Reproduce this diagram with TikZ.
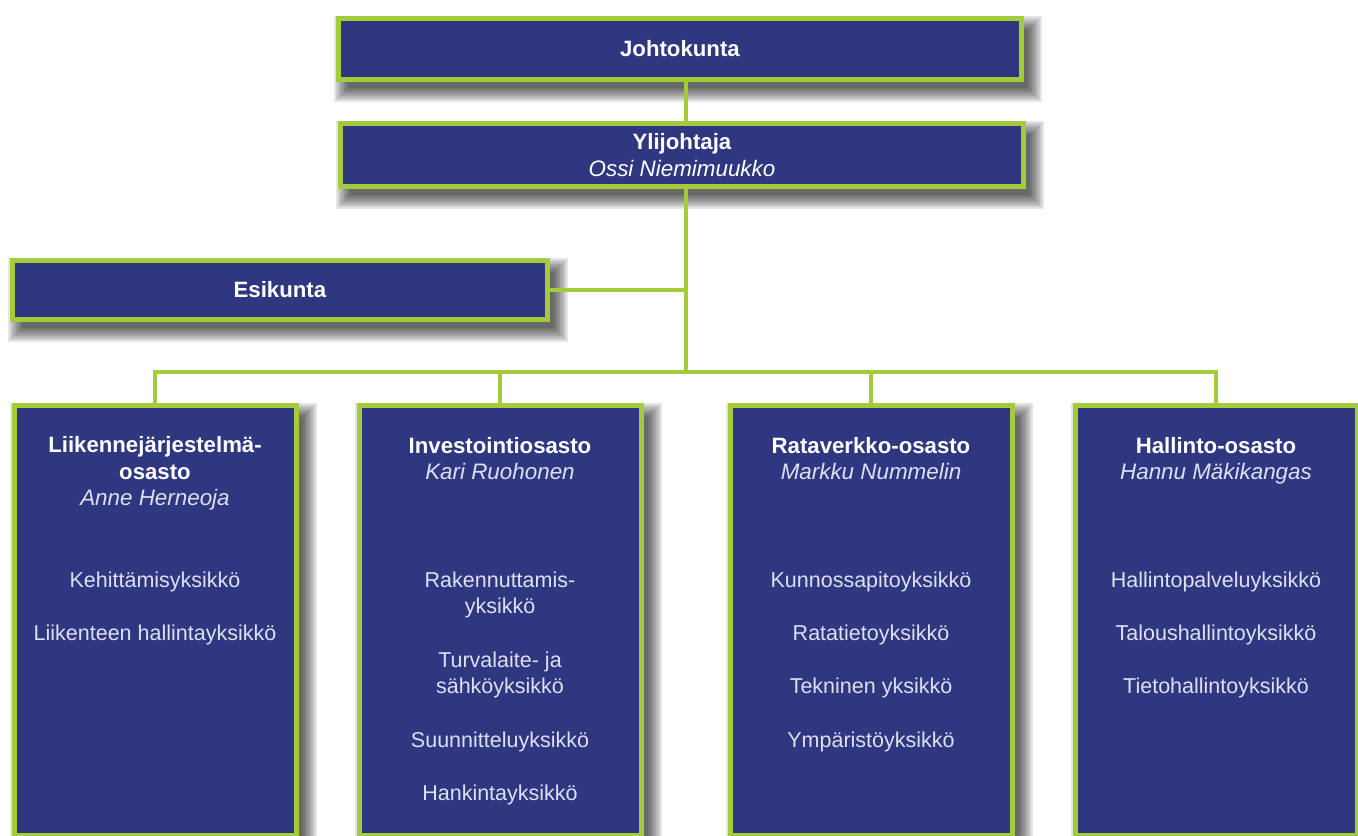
\documentclass[tikz,border=0pt]{standalone}
\usepackage{fontspec}
\setmainfont{Liberation Sans}
\usetikzlibrary{calc}
\definecolor{navy}{RGB}{46,55,128}
\definecolor{lime}{RGB}{164,204,58}
\definecolor{unitc}{RGB}{222,224,242}
\pgfdeclarelayer{bg}
\pgfsetlayers{bg,main}
\begin{document}
\begin{tikzpicture}[x=0.5pt,y=-0.5pt,
  box/.style={draw=lime, line width=2.5pt, fill=navy, text=white, align=center, inner sep=0pt,
    font=\fontsize{10.75}{13.4}\selectfont},
  conn/.style={draw=lime, line width=2.2pt},
  shadowpart/.style={fill=black, fill opacity=0.1, draw=none},
  ttl/.style={text=white, font=\bfseries\fontsize{11.1}{13.4}\selectfont, anchor=base, inner sep=0pt},
  nm/.style={text=unitc, font=\itshape\fontsize{11.2}{13.4}\selectfont, anchor=base, inner sep=0pt},
  unit/.style={text=unitc, font=\fontsize{10.75}{13.4}\selectfont, anchor=base, inner sep=0pt}
]
\useasboundingbox (0,0) rectangle (1358,835);

% boxes
\node[box, minimum width=341.5pt, minimum height=30.5pt] (jk) at (680,49) {\fontsize{11.1}{13.4}\selectfont\textbf{Johtokunta}};
\node[box, minimum width=341.5pt, minimum height=31.5pt] (yj) at (682,155) {\fontsize{11.1}{13.6}\selectfont\textbf{Ylijohtaja}\\\fontsize{11.2}{13.6}\selectfont\textit{Ossi Niemimuukko}};
\node[box, minimum width=267.5pt, minimum height=29.5pt] (es) at (280,290) {\fontsize{11.1}{13.4}\selectfont\textbf{Esikunta}};
\node[box, minimum width=141pt, minimum height=215pt] (b1) at (155,620) {};
\node[box, minimum width=141pt, minimum height=215pt] (b2) at (500,620) {};
\node[box, minimum width=141pt, minimum height=215pt] (b3) at (871,620) {};
\node[box, minimum width=141pt, minimum height=215pt] (b4) at (1216,620) {};

% soft shadows
\begin{pgfonlayer}{bg}
\fill[white] (0,0) rectangle (1358,835);
\foreach \n in {jk,yj,es,b1,b2,b3,b4}{
  \foreach \k in {0,...,7}{
    \pgfmathsetmacro{\r}{(\k-2)*2}
    \fill[shadowpart] ($(\n.north west)+(8-\r,10-\r)$) rectangle ($(\n.south east)+(8+\r,10+\r)$);
  }
}
\end{pgfonlayer}

% connectors
\coordinate (t1) at (686,290);
\coordinate (t2) at (686,372);
\draw[conn] (jk.south -| t1) -- (yj.north -| t1);
\draw[conn] (yj.south -| t1) -- (t2);
\draw[conn] (es.east) -- (t1);
\draw[conn] (b1.north) -- (b1.north |- t2) -- (b4.north |- t2) -- (b4.north);
\draw[conn] (b2.north |- t2) -- (b2.north);
\draw[conn] (b3.north |- t2) -- (b3.north);

% box 1
\node[ttl] (b1t1) at (155,452) {Liikennejärjestelmä-};
\node[ttl] (b1t2) at (155,479) {osasto};
\node[nm] (b1n) at (155,505) {Anne Herneoja};
\node[unit] (b1u1) at (155,587) {Kehittämisyksikkö};
\node[unit] (b1u2) at (155,640) {Liikenteen hallintayksikkö};

% box 2
\node[ttl] (b2t1) at (500,453) {Investointiosasto};
\node[nm] (b2n) at (500,479) {Kari Ruohonen};
\node[unit] (b2u1) at (500,587) {Rakennuttamis-};
\node[unit] (b2u1b) at (500,613) {yksikkö};
\node[unit] (b2u2) at (500,667) {Turvalaite- ja};
\node[unit] (b2u2b) at (500,693) {sähköyksikkö};
\node[unit] (b2u3) at (500,747) {Suunnitteluyksikkö};
\node[unit] (b2u4) at (500,800) {Hankintayksikkö};

% box 3
\node[ttl] (b3t1) at (871,453) {Rataverkko-osasto};
\node[nm] (b3n) at (871,479) {Markku Nummelin};
\node[unit] (b3u1) at (871,587) {Kunnossapitoyksikkö};
\node[unit] (b3u2) at (871,640) {Ratatietoyksikkö};
\node[unit] (b3u3) at (871,693) {Tekninen yksikkö};
\node[unit] (b3u4) at (871,747) {Ympäristöyksikkö};

% box 4
\node[ttl] (b4t1) at (1216,453) {Hallinto-osasto};
\node[nm] (b4n) at (1216,479) {Hannu Mäkikangas};
\node[unit] (b4u1) at (1216,587) {Hallintopalveluyksikkö};
\node[unit] (b4u2) at (1216,640) {Taloushallintoyksikkö};
\node[unit] (b4u3) at (1216,693) {Tietohallintoyksikkö};
\end{tikzpicture}
\end{document}
